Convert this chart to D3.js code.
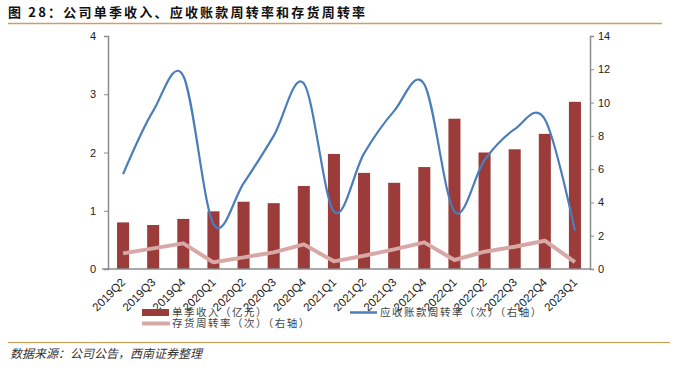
<!DOCTYPE html>
<html>
<head>
<meta charset="utf-8">
<script src="https://cdn.jsdelivr.net/npm/d3@7"></script>
<style>
	body { margin: 0; background: #fff; }
	svg { display: block; font-family: "Liberation Sans", Arial, sans-serif; }
</style>
</head>
<body>
<svg id="chart" width="678" height="371"></svg>
<script>
var quarters = ["2019Q2", "2019Q3", "2019Q4", "2020Q1", "2020Q2", "2020Q3", "2020Q4", "2021Q1",
	"2021Q2", "2021Q3", "2021Q4", "2022Q1", "2022Q2", "2022Q3", "2022Q4", "2023Q1"];
var revenue = [0.80, 0.755, 0.86, 0.99, 1.155, 1.13, 1.425, 1.975, 1.65, 1.48, 1.75, 2.58, 2.0, 2.055, 2.32, 2.87];
var arTurnover = [5.7, 9.5, 11.6, 2.7, 5.15, 8.0, 11.15, 3.45, 6.95, 9.5, 11.1, 3.45, 6.55, 8.4, 9.0, 2.3];
var invTurnover = [0.94, 1.24, 1.54, 0.4, 0.7, 1.0, 1.48, 0.46, 0.8, 1.18, 1.6, 0.54, 1.04, 1.34, 1.7, 0.42];
var leftTicks = [0, 1, 2, 3, 4];
var rightTicks = [0, 2, 4, 6, 8, 10, 12, 14];

var svg = d3.select("#chart");
var plotL = 108, plotR = 590, plotT = 36, plotB = 269;

var x = d3.scaleBand().domain(quarters).range([plotL, plotR]).paddingInner(0.6).paddingOuter(0.3);
var yL = d3.scaleLinear().domain([0, 4]).range([plotB, plotT]);
var yR = d3.scaleLinear().domain([0, 14]).range([plotB, plotT]);
var cx = function(d){ return x(d) + x.bandwidth() / 2; };

// title + rules
svg.append("text")
	.attr("x", 8).attr("y", 17)
	.attr("font-family", "'Noto Sans CJK SC', sans-serif")
	.attr("font-size", 13).attr("font-weight", "bold")
	.attr("letter-spacing", 2.2)
	.attr("fill", "#111")
	.text("图 28：公司单季收入、应收账款周转率和存货周转率");
svg.append("line").attr("x1", 8).attr("x2", 662).attr("y1", 23.5).attr("y2", 23.5)
	.attr("stroke", "#c9a066").attr("stroke-width", 1.5);
svg.append("line").attr("x1", 8).attr("x2", 670).attr("y1", 342.5).attr("y2", 342.5)
	.attr("stroke", "#d4964a").attr("stroke-width", 1.2);

// bars
svg.append("g").selectAll("rect")
	.data(revenue)
	.enter().append("rect")
	.attr("x", function(d, i){ return x(quarters[i]); })
	.attr("width", x.bandwidth())
	.attr("y", function(d){ return yL(d); })
	.attr("height", function(d){ return plotB - yL(d); })
	.attr("fill", "#9b3b3a");

// inventory turnover (straight)
svg.append("path")
	.datum(invTurnover)
	.attr("fill", "none")
	.attr("stroke", "#d8a8a6")
	.attr("stroke-width", 4)
	.attr("stroke-linejoin", "round")
	.attr("d", d3.line()
		.x(function(d, i){ return cx(quarters[i]); })
		.y(function(d){ return yR(d); }));

// AR turnover (smoothed)
svg.append("path")
	.datum(arTurnover)
	.attr("fill", "none")
	.attr("stroke", "#4a7ebb")
	.attr("stroke-width", 2.2)
	.attr("d", d3.line()
		.curve(d3.curveCatmullRom.alpha(0))
		.x(function(d, i){ return cx(quarters[i]); })
		.y(function(d){ return yR(d); }));

// axes
function styleAxis(g){
	g.selectAll("path.domain").attr("stroke", "#8c8c8c").attr("stroke-width", 1.5);
	g.selectAll(".tick line").attr("stroke", "#8c8c8c");
	g.selectAll(".tick text").attr("font-size", 11).attr("fill", "#222")
		.attr("font-family", "'Liberation Sans', Arial, sans-serif");
}
svg.append("g").attr("transform", "translate(" + plotL + ",0)")
	.call(d3.axisLeft(yL).tickValues(leftTicks).tickFormat(d3.format("d"))
		.tickSize(4).tickSizeOuter(4).tickPadding(8))
	.call(styleAxis);
svg.append("g").attr("transform", "translate(" + plotR + ",0)")
	.call(d3.axisRight(yR).tickValues(rightTicks).tickSize(4).tickSizeOuter(4).tickPadding(4))
	.call(styleAxis);

var xAxis = svg.append("g").attr("transform", "translate(0," + plotB + ")")
	.call(d3.axisBottom(x).tickSize(0).tickSizeOuter(0));
xAxis.select("path.domain").attr("stroke", "#8c8c8c").attr("stroke-width", 1.5)
	.attr("d", "M" + (plotL - 6) + ",0H" + plotR);
xAxis.selectAll(".tick text")
	.attr("font-size", 11.5).attr("fill", "#222")
	.attr("text-anchor", "end")
	.attr("y", 0).attr("dx", 0).attr("dy", 0)
	.attr("transform", "translate(3,14) rotate(-45)");

// legend
var legend = svg.append("g")
	.attr("font-family", "'Noto Sans CJK SC', sans-serif")
	.attr("font-size", 10.5)
	.attr("letter-spacing", 1.5)
	.attr("fill", "#444");
legend.append("rect").attr("x", 142).attr("y", 309).attr("width", 27).attr("height", 7).attr("fill", "#9b3b3a");
legend.append("text").attr("x", 172).attr("y", 316).text("单季收入（亿元）");
legend.append("line").attr("x1", 350).attr("x2", 377).attr("y1", 312.5).attr("y2", 312.5)
	.attr("stroke", "#4a7ebb").attr("stroke-width", 2.5);
legend.append("text").attr("x", 380).attr("y", 316).text("应收账款周转率（次）（右轴）");
legend.append("line").attr("x1", 142).attr("x2", 170).attr("y1", 323.5).attr("y2", 323.5)
	.attr("stroke", "#d8a8a6").attr("stroke-width", 4);
legend.append("text").attr("x", 172).attr("y", 327).text("存货周转率（次）（右轴）");

// source
svg.append("text")
	.attr("x", 10).attr("y", 358)
	.attr("font-family", "'Noto Sans CJK SC', serif")
	.attr("font-size", 12).attr("font-style", "italic")
	.attr("fill", "#333")
	.text("数据来源：公司公告，西南证券整理");
</script>
</body>
</html>
